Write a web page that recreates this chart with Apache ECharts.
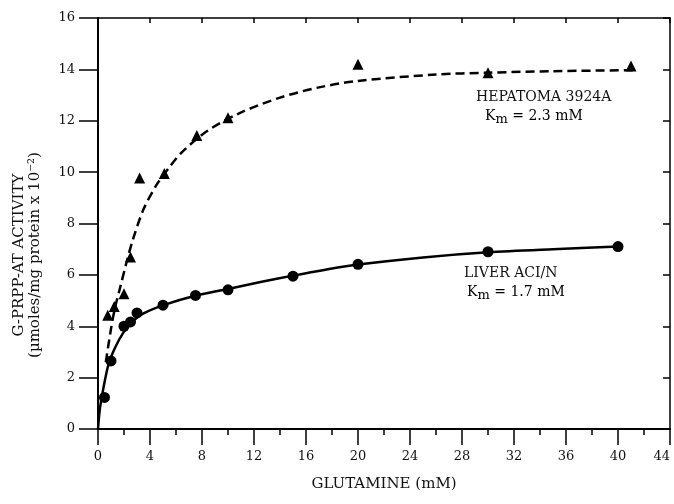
<!DOCTYPE html>
<html>
<head>
<meta charset="utf-8">
<script src="https://cdn.jsdelivr.net/npm/echarts@6/dist/echarts.min.js"></script>
<style>html,body{margin:0;padding:0;background:#fff}#c{width:674px;height:504px}</style>
</head>
<body>
<div id="c"></div>
<script>
// ---- data ----
var liverX = [0.5, 1, 2, 2.5, 3, 5, 7.5, 10, 15, 20, 30, 40];
var liverY = [1.23, 2.65, 4.0, 4.17, 4.52, 4.82, 5.2, 5.42, 5.95, 6.41, 6.9, 7.1];
var liverCurveX = [0, 0.15, 0.4, 0.8, 1.3, 1.95, 2.7, 3.5, 5.15, 7.4, 10, 12.5, 15, 17.5, 20, 25, 30, 35, 40];
var liverCurveY = [0, 0.8, 1.55, 2.5, 3.15, 3.75, 4.2, 4.5, 4.84, 5.18, 5.45, 5.72, 5.97, 6.2, 6.4, 6.68, 6.88, 7.0, 7.1];

var hepX = [0.75, 1.25, 2, 2.5, 3.2, 5.1, 7.6, 10, 20, 30, 41];
var hepY = [4.43, 4.77, 5.27, 6.7, 9.77, 9.95, 11.43, 12.12, 14.2, 13.87, 14.13];
var hepCurveX = [0.6, 1.0, 1.3, 1.7, 2.2, 2.7, 3.5, 4.5, 5.5, 6.5, 8.4, 10.9, 14, 17, 20, 26, 30, 35, 41.4];
var hepCurveY = [2.6, 3.9, 4.7, 5.5, 6.5, 7.4, 8.55, 9.5, 10.2, 10.8, 11.6, 12.3, 12.9, 13.3, 13.55, 13.8, 13.87, 13.93, 13.97];

var xTitle = 'GLUTAMINE (mM)';
var yTitle1 = 'G-PRPP-AT ACTIVITY';
var yTitle2 = '(\u00b5moles/mg protein x 10\u207b\u00b2)';
var hepName = 'HEPATOMA 3924A';
var hepKm = '2.3 mM';
var liverName = 'LIVER ACI/N';
var liverKm = '1.7 mM';

function zip(a, b) { return a.map(function (v, i) { return [v, b[i]]; }); }

var FONT = 'DejaVu Serif';
var INK = '#111';

var chart = echarts.init(document.getElementById('c'), null, { renderer: 'canvas' });

var kmRich = {
  k: { fontFamily: FONT, fontSize: 14, color: INK, lineHeight: 20, verticalAlign: 'middle' },
  s: { fontFamily: FONT, fontSize: 13, color: INK, lineHeight: 20, verticalAlign: 'bottom' }
};

chart.setOption({
  animation: false,
  backgroundColor: '#fff',
  grid: { left: 98, right: 4, top: 18, bottom: 75, containLabel: false, outerBoundsMode: 'none' },
  xAxis: [{
    type: 'value', min: 0, max: 44, interval: 4, position: 'bottom',
    axisLine: { show: true, onZero: false, lineStyle: { color: '#000', width: 2 } },
    axisTick: { show: true, inside: false, length: 16, lineStyle: { color: '#000', width: 1.5 } },
    minorTick: { show: true, splitNumber: 2, length: 6, lineStyle: { color: '#000', width: 1.5 } },
    splitLine: { show: false },
    axisLabel: { margin: 21, fontFamily: FONT, fontSize: 13, color: INK, alignMaxLabel: 'right' },
    name: xTitle, nameLocation: 'middle', nameGap: 48,
    nameTextStyle: { fontFamily: FONT, fontSize: 15, color: INK }
  }, {
    type: 'value', min: 0, max: 44, interval: 4, position: 'top',
    axisLine: { show: true, onZero: false, lineStyle: { color: '#000', width: 1.5 } },
    axisTick: { show: true, inside: true, length: 5, lineStyle: { color: '#000', width: 1.5 } },
    axisLabel: { show: false }, splitLine: { show: false }
  }],
  yAxis: [{
    type: 'value', min: 0, max: 16, interval: 2, position: 'left',
    axisLine: { show: true, onZero: false, lineStyle: { color: '#000', width: 2 } },
    axisTick: { show: true, inside: false, length: 19, lineStyle: { color: '#000', width: 1.5 } },
    splitLine: { show: false },
    axisLabel: { margin: 23, fontFamily: FONT, fontSize: 13, color: INK }
  }, {
    type: 'value', min: 0, max: 16, interval: 2, position: 'right',
    axisLine: { show: true, onZero: false, lineStyle: { color: '#000', width: 1.5 } },
    axisTick: { show: true, inside: true, length: 7, lineStyle: { color: '#000', width: 1.5 } },
    axisLabel: { show: false }, splitLine: { show: false }
  }],
  series: [{
    name: 'Liver fit', type: 'line', data: zip(liverCurveX, liverCurveY), smooth: 0.3,
    showSymbol: false, lineStyle: { color: '#000', width: 2.5 }, z: 2
  }, {
    name: 'Hepatoma fit', type: 'line', data: zip(hepCurveX, hepCurveY), smooth: 0.3,
    showSymbol: false, lineStyle: { color: '#000', width: 2.5, type: [9, 5] }, z: 2
  }, {
    name: liverName, type: 'scatter', data: zip(liverX, liverY), symbol: 'circle', symbolSize: 11,
    itemStyle: { color: '#000', opacity: 1 }, z: 3
  }, {
    name: hepName, type: 'scatter', data: zip(hepX, hepY), symbol: 'triangle', symbolSize: 11,
    itemStyle: { color: '#000', opacity: 1 }, z: 3
  }],
  graphic: [{
    type: 'text', x: 27, y: 255, rotation: Math.PI / 2,
    style: { text: yTitle1 + '\n' + yTitle2, align: 'center', verticalAlign: 'middle',
      fontFamily: FONT, fontSize: 15, lineHeight: 16, fill: INK }
  }, {
    type: 'text', x: 476, y: 97,
    style: { text: hepName, align: 'left', verticalAlign: 'middle', fontFamily: FONT, fontSize: 14, fill: INK }
  }, {
    type: 'text', x: 485, y: 116,
    style: { text: '{k|K}{s|m}{k| = ' + hepKm + '}', rich: kmRich, align: 'left', verticalAlign: 'middle' }
  }, {
    type: 'text', x: 464, y: 273,
    style: { text: liverName, align: 'left', verticalAlign: 'middle', fontFamily: FONT, fontSize: 14, fill: INK }
  }, {
    type: 'text', x: 467, y: 292,
    style: { text: '{k|K}{s|m}{k| = ' + liverKm + '}', rich: kmRich, align: 'left', verticalAlign: 'middle' }
  }]
});
</script>
</body>
</html>
